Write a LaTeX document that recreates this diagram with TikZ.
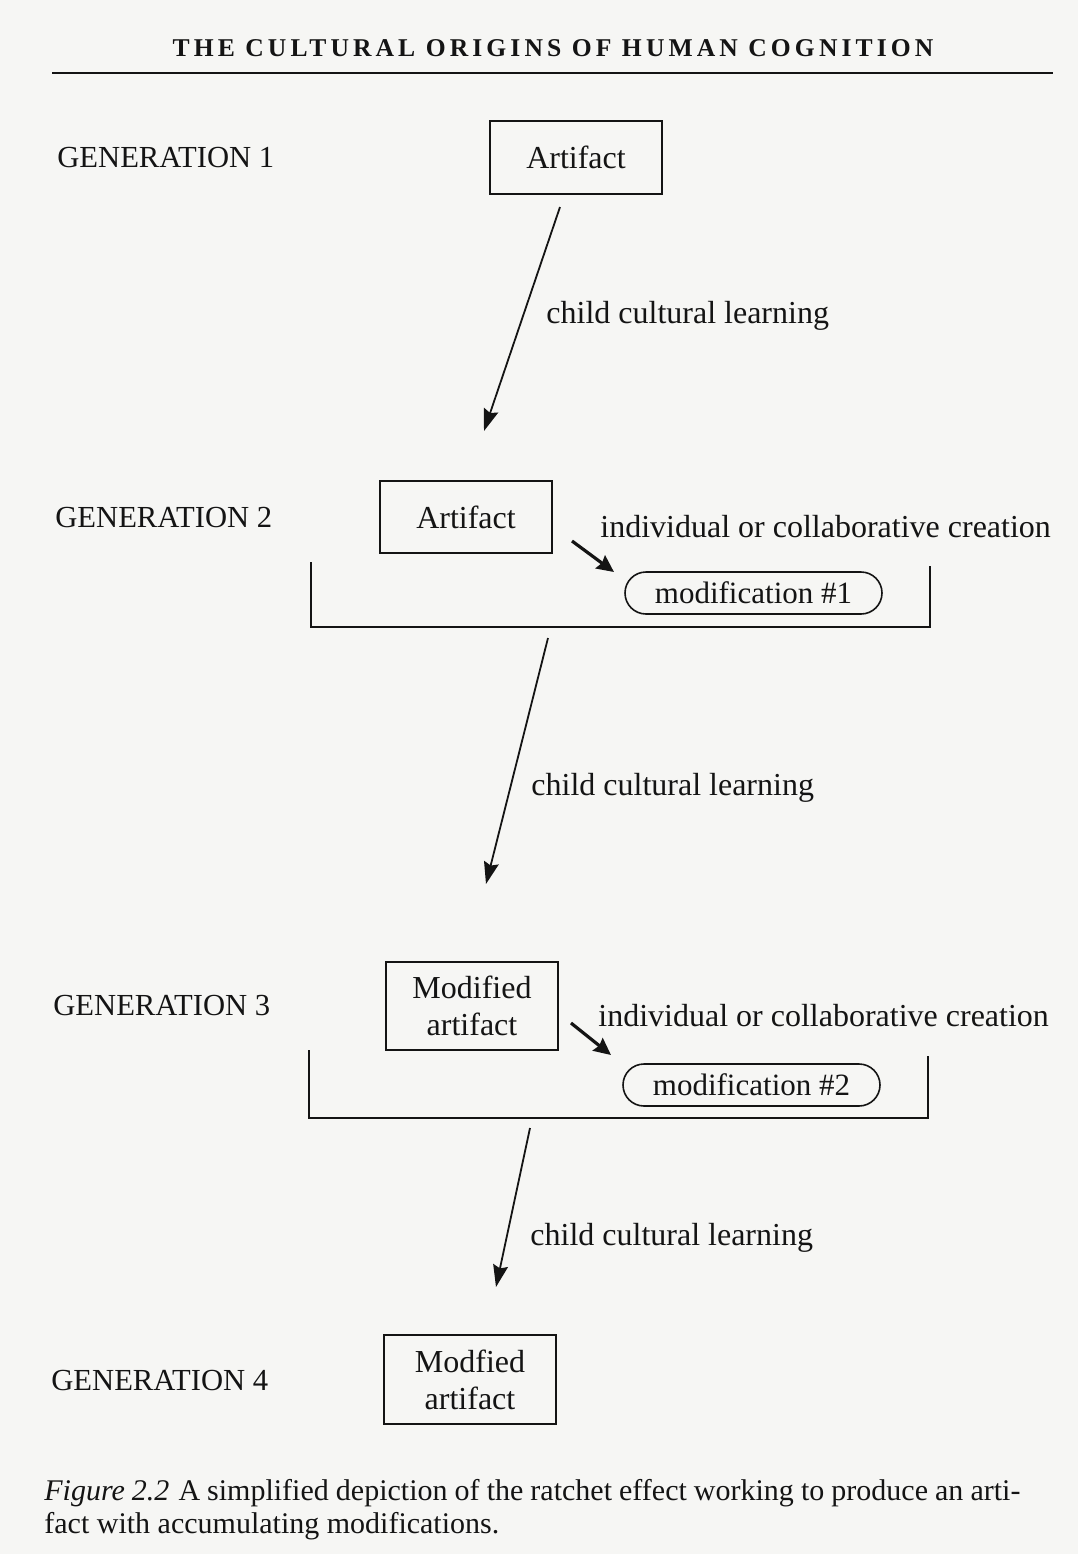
\documentclass[tikz,border=0pt]{standalone}
\usepackage{fontspec}
\setmainfont{Liberation Serif}
\usetikzlibrary{arrows.meta}
\definecolor{paper}{RGB}{246,246,244}
\definecolor{ink}{RGB}{20,20,20}
\tikzset{
  genlabel/.style={anchor=base west, inner sep=0pt, font=\fontsize{15.3}{18}\selectfont, text=ink},
  steplabel/.style={anchor=base west, inner sep=0pt, font=\fontsize{16}{19}\selectfont, text=ink},
  artbox/.style={draw=ink, line width=0.8pt, minimum width=86pt, inner sep=0pt, align=center,
    font=\fontsize{16}{18.5}\selectfont, text=ink},
  modbox/.style={draw=ink, line width=0.8pt, rounded corners=10.5pt, minimum width=128.5pt,
    minimum height=21pt, inner sep=0pt, font=\fontsize{15.5}{19}\selectfont, text=ink},
  learnarrow/.style={draw=ink, line width=0.9pt, -{Stealth[length=11pt, width=7.5pt, inset=1.5pt]}},
  createarrow/.style={draw=ink, line width=1.6pt, -{Stealth[length=8.5pt, width=8pt, inset=1pt]}},
  bracket/.style={draw=ink, line width=1pt}
}
\begin{document}
\begin{tikzpicture}[x=0.5pt, y=-0.5pt]
\useasboundingbox (0,0) rectangle (1078,1554);
\fill[paper] (0,0) rectangle (1078,1554);

% running head
\node[inner sep=0pt, anchor=base, text=ink,
  font={\fontsize{12.8}{14}\selectfont\bfseries\addfontfeatures{LetterSpace=16}}]
  (head) at (553,56) {THE CULTURAL ORIGINS OF HUMAN COGNITION};
\coordinate (ruleL) at (52,73);
\coordinate (ruleR) at (1053,73);
\draw[ink, line width=1.3pt] (ruleL) -- (ruleR);

% generation labels
\node[genlabel] (g1) at (57,167) {GENERATION 1};
\node[genlabel] (g2) at (55,527) {GENERATION 2};
\node[genlabel] (g3) at (53,1015) {GENERATION 3};
\node[genlabel] (g4) at (51,1390) {GENERATION 4};

% artifacts
\node[artbox, minimum height=36.5pt] (a1) at (576,157.5) {Artifact};
\node[artbox, minimum height=36pt] (a2) at (466,517) {Artifact};
\node[artbox, minimum height=44pt] (a3) at (472,1006) {Modified\\artifact};
\node[artbox, minimum height=44.5pt] (a4) at (470,1379.5) {Modfied\\artifact};

% modifications
\node[modbox] (m1) at (753.5,593) {modification \#1};
\node[modbox] (m2) at (751.5,1085) {modification \#2};

% step labels
\node[steplabel] (l1) at (546,323) {child cultural learning};
\node[steplabel] (l2) at (531,795) {child cultural learning};
\node[steplabel] (l3) at (530,1245) {child cultural learning};
\node[steplabel] (c1) at (600,537) {individual or collaborative creation};
\node[steplabel] (c2) at (598,1026) {individual or collaborative creation};

% cultural learning arrows between generations
\coordinate (s1) at (560,207);  \coordinate (e1) at (484,431);
\coordinate (s2) at (548,638);  \coordinate (e2) at (486,884);
\coordinate (s3) at (530,1128); \coordinate (e3) at (496,1287);
\draw[learnarrow] (s1) -- (e1);
\draw[learnarrow] (s2) -- (e2);
\draw[learnarrow] (s3) -- (e3);

% creation arrows
\coordinate (k1s) at (572,541); \coordinate (k1e) at (614,572);
\coordinate (k2s) at (571,1023); \coordinate (k2e) at (611,1055);
\draw[createarrow] (k1s) -- (k1e);
\draw[createarrow] (k2s) -- (k2e);

% generation brackets
\coordinate (b1a) at (311,562); \coordinate (b1b) at (311,627);
\coordinate (b1c) at (930,627); \coordinate (b1d) at (930,566);
\draw[bracket] (b1a) -- (b1b) -- (b1c) -- (b1d);
\coordinate (b2a) at (309,1050); \coordinate (b2b) at (309,1118);
\coordinate (b2c) at (928,1118); \coordinate (b2d) at (928,1056);
\draw[bracket] (b2a) -- (b2b) -- (b2c) -- (b2d);

% caption
\node[anchor=north west, inner sep=0pt, text=ink, text width=488pt, align=justify,
  font=\fontsize{15}{16.5}\selectfont] (cap) at (44,1479)
  {\textit{Figure 2.2}\hspace{0.3em}A simplified depiction of the ratchet effect working to produce an arti-\linebreak fact with accumulating modifications.};
\end{tikzpicture}
\end{document}
